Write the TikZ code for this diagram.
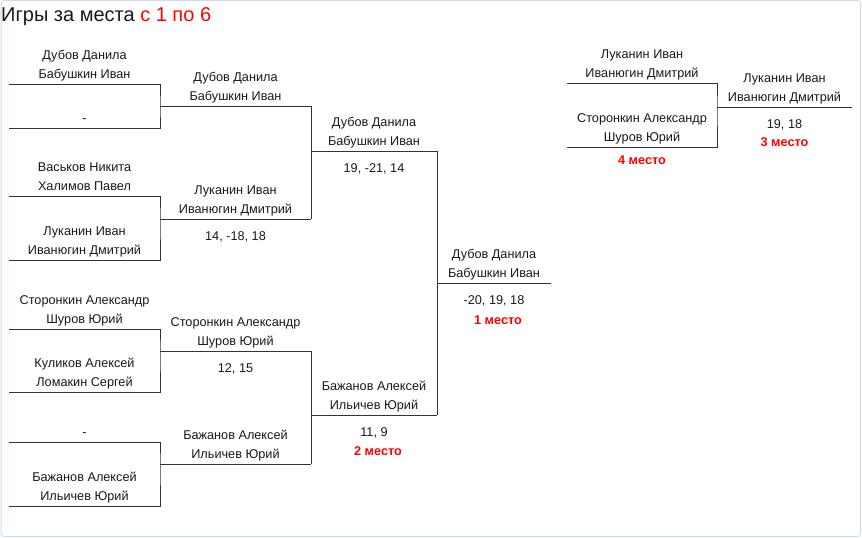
\documentclass[tikz,border=0pt]{standalone}
\usepackage{fontspec}
\setmainfont{Liberation Sans}
\newcommand{\nmfont}{\fontsize{12.7}{19}\selectfont}
\tikzset{
  brk/.style={draw=black!80,line width=1pt},
  pair/.style={align=center,inner sep=0pt,anchor=south,font=\nmfont,text=black!90,execute at end node=\strut},
  res/.style={inner sep=0pt,anchor=north,font=\nmfont,text=black!90,execute at begin node=\strut},
  place/.style={inner sep=0pt,anchor=base,font=\nmfont\bfseries,text=red},
}
\begin{document}
\begin{tikzpicture}[x=1pt,y=-1pt]
        \useasboundingbox (0,0) rectangle (862,538);
        \draw[draw={rgb,255:red,208;green,220;blue,230},line width=1pt,rounded corners=3pt] (1,0.5) rectangle (860.5,536.5);
        \node[anchor=base west,inner sep=0pt,font=\fontsize{20}{24}\selectfont,text=black!90] (title) at (1,21) {Игры за места \textcolor{red}{с 1 по 6}};
        % first round
        \coordinate(l1a)at(9,84);\coordinate(l1b)at(9,128);\coordinate(w1)at(160,106);\coordinate(v1)at(311,106);
        \coordinate(l2a)at(9,196);\coordinate(l2b)at(9,260);\coordinate(w2)at(160,219);\coordinate(v2)at(311,219);
        \coordinate(l3a)at(9,329);\coordinate(l3b)at(9,392);\coordinate(w3)at(160,351);\coordinate(v3)at(311,351);
        \coordinate(l4a)at(9,442);\coordinate(l4b)at(9,506);\coordinate(w4)at(160,464);\coordinate(v4)at(311,464);
        \draw[brk] (l1a) -| (w1) |- (l1b) (w1) -- (v1);
        \draw[brk] (l2a) -| (w2) |- (l2b) (w2) -- (v2);
        \draw[brk] (l3a) -| (w3) |- (l3b) (w3) -- (v3);
        \draw[brk] (l4a) -| (w4) |- (l4b) (w4) -- (v4);
        \node[pair] (n1a) at (84.5,84.5) {Дубов Данила\\Бабушкин Иван};
        \node[pair] (n1b) at (84.5,128.5) {-};
        \node[pair] (n2a) at (84.5,196.5) {Васьков Никита\\Халимов Павел};
        \node[pair] (n2b) at (84.5,260.5) {Луканин Иван\\Иванюгин Дмитрий};
        \node[pair] (n3a) at (84.5,329.5) {Сторонкин Александр\\Шуров Юрий};
        \node[pair] (n3b) at (84.5,392.5) {Куликов Алексей\\Ломакин Сергей};
        \node[pair] (n4a) at (84.5,442.5) {-};
        \node[pair] (n4b) at (84.5,506.5) {Бажанов Алексей\\Ильичев Юрий};
        % second round
        \coordinate(u1)at(311,151);\coordinate(t1)at(437,151);
        \coordinate(u2)at(311,415);\coordinate(t2)at(437,415);
        \draw[brk] (v1) -- (v2) (u1) -- (t1);
        \draw[brk] (v3) -- (v4) (u2) -- (t2);
        \node[pair] (r1) at (235.5,106.5) {Дубов Данила\\Бабушкин Иван};
        \node[pair] (r2) at (235.5,219.5) {Луканин Иван\\Иванюгин Дмитрий};
        \node[res] (s2) at (235.5,227) {14, -18, 18};
        \node[pair] (r3) at (235.5,351.5) {Сторонкин Александр\\Шуров Юрий};
        \node[res] (s3) at (235.5,359) {12, 15};
        \node[pair] (r4) at (235.5,464.5) {Бажанов Алексей\\Ильичев Юрий};
        % semifinals and final
        \coordinate(f)at(437,283);\coordinate(g)at(551,283);
        \draw[brk] (t1) -- (t2) (f) -- (g);
        \node[pair] (h1) at (374,151.5) {Дубов Данила\\Бабушкин Иван};
        \node[res] (sh1) at (374,159) {19, -21, 14};
        \node[pair] (h2) at (374,415.5) {Бажанов Алексей\\Ильичев Юрий};
        \node[res] (sh2) at (374,423) {11, 9};
        \node[place] (p2) at (378,455.5) {2 место};
        \node[pair] (fin) at (494,283.5) {Дубов Данила\\Бабушкин Иван};
        \node[res] (sf) at (494,291) {-20, 19, 18};
        \node[place] (p1) at (498,324.5) {1 место};
        % third place
        \coordinate(k1)at(567,83);\coordinate(k2)at(567,147);\coordinate(z)at(717,107);\coordinate(zz)at(852,107);
        \draw[brk] (k1) -| (z) |- (k2) (z) -- (zz);
        \node[pair] (c1) at (642,83.5) {Луканин Иван\\Иванюгин Дмитрий};
        \node[pair] (c2) at (642,147.5) {Сторонкин Александр\\Шуров Юрий};
        \node[place] (p4) at (642,164.5) {4 место};
        \node[pair] (c3) at (784.5,107.5) {Луканин Иван\\Иванюгин Дмитрий};
        \node[res] (sc) at (784.5,115) {19, 18};
        \node[place] (p3) at (784.5,146.5) {3 место};
        \end{tikzpicture}
\end{document}
